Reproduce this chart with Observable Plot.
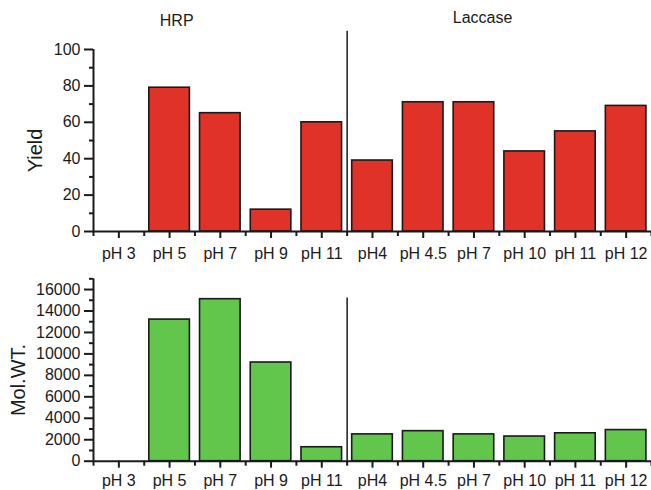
<!DOCTYPE html>
<html>
<head>
<meta charset="utf-8">
<script src="https://cdn.jsdelivr.net/npm/d3@7"></script>
<script src="https://cdn.jsdelivr.net/npm/@observablehq/plot@0.6"></script>
<style>
  html, body { margin: 0; padding: 0; background: #fff; }
  #chart { width: 651px; height: 490px; overflow: hidden; }
  #chart svg { display: block; }
</style>
</head>
<body>
<div id="chart"></div>
<script>
// ---- data ----
const categories = ["pH 3", "pH 5", "pH 7", "pH 9", "pH 11", "pH4", "pH 4.5", "pH 7", "pH 10", "pH 11", "pH 12"];
const enzymes = ["HRP", "HRP", "HRP", "HRP", "HRP", "Laccase", "Laccase", "Laccase", "Laccase", "Laccase", "Laccase"];
const yieldValues = [0, 79, 65, 12, 60, 39, 71, 71, 44, 55, 69];
const molWtValues = [0, 13200, 15100, 9200, 1300, 2500, 2800, 2500, 2300, 2600, 2900];
const groupTitles = ["HRP", "Laccase"];
const yieldTicks = [0, 20, 40, 60, 80, 100];
const molWtTicks = [0, 2000, 4000, 6000, 8000, 10000, 12000, 14000, 16000];

// ---- derived tables ----
const rows = categories.map((c, i) => ({i, category: c, enzyme: enzymes[i], yield: yieldValues[i], molwt: molWtValues[i]}));
const idx = rows.map(d => d.i);
const bounds = d3.range(-0.5, categories.length, 1);
const splitAt = enzymes.indexOf("Laccase") - 0.5;

const font = "'Liberation Sans', Arial, Helvetica, sans-serif";
const ink = "#1a1a1a";

function panel({key, fill, height, marginTop, marginBottom, domainMax, ticks, minorTicks, label, labelDy, labelDx, dividerTop, xPad = 9, extra = []}) {
  return Plot.plot({
    width: 651,
    height,
    marginLeft: 93,
    marginRight: 0,
    marginTop,
    marginBottom,
    style: {fontFamily: font, fontSize: "16px", color: ink, background: "#fff", overflow: "visible"},
    x: {domain: [-0.5, categories.length - 0.5], axis: null},
    y: {domain: [0, domainMax], axis: null},
    marks: [
      Plot.rectY(rows.filter(d => d[key] > 0), {
        x1: d => d.i - 0.4, x2: d => d.i + 0.4, y1: 0, y2: key,
        fill, stroke: ink, strokeWidth: 1.6
      }),
      Plot.ruleX([splitAt], {y1: 0, y2: dividerTop, stroke: ink, strokeWidth: 1.5}),
      // x axis
      Plot.ruleY([0], {stroke: ink, strokeWidth: 2}),
      Plot.axisX({ticks: idx, tickFormat: i => categories[i], tickSize: 7, tickPadding: xPad, strokeWidth: 2, fontSize: 16, stroke: ink, fill: ink}),
      Plot.axisX({ticks: bounds, tickFormat: () => "", tickSize: 5, strokeWidth: 2, stroke: ink}),
      // y axis
      Plot.ruleX([-0.5], {y1: 0, y2: domainMax, stroke: ink, strokeWidth: 2}),
      Plot.axisY({ticks, tickFormat: d => String(d), tickSize: 9, tickPadding: 4, strokeWidth: 2, fontSize: 16, stroke: ink, fill: ink, label: null}),
      Plot.axisY({ticks: minorTicks, tickFormat: () => "", tickSize: 4, strokeWidth: 2, stroke: ink, label: null}),
      Plot.text([label], {frameAnchor: "left", dx: labelDx, dy: labelDy, rotate: -90, fontSize: 20, fill: ink, textAnchor: "middle"}),
      ...extra
    ]
  });
}

const yieldChart = panel({
  key: "yield", fill: "#e1322a", height: 262, marginTop: 49, marginBottom: 31,
  domainMax: 100, ticks: yieldTicks, minorTicks: d3.range(10, 100, 20),
  label: "Yield", labelDx: -58, labelDy: 10, dividerTop: 110,
  extra: [
    Plot.text([groupTitles[0]], {x: 1.14, y: 115.5, fontSize: 16, fill: ink}),
    Plot.text([groupTitles[1]], {x: 7.17, y: 117.4, fontSize: 16, fill: ink})
  ]
});

const molWtChart = panel({
  key: "molwt", fill: "#62c64d", height: 228, marginTop: 16.3, marginBottom: 29.3,
  domainMax: 17000, ticks: molWtTicks, minorTicks: d3.range(1000, 17001, 2000),
  label: "Mol.WT.", labelDx: -75, labelDy: 10, dividerTop: 15200, xPad: 6
});

document.getElementById("chart").append(yieldChart, molWtChart);
</script>
</body>
</html>
